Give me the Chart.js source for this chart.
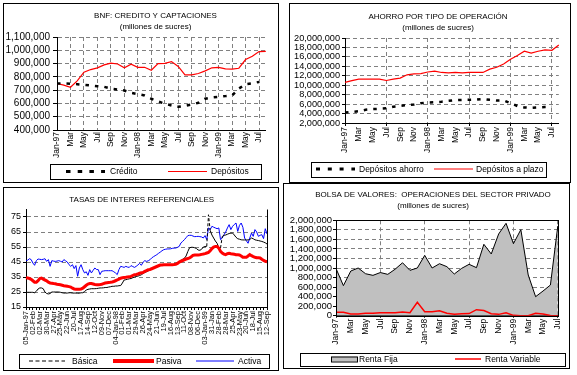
<!DOCTYPE html>
<html><head><meta charset="utf-8">
<script src="https://cdn.jsdelivr.net/npm/chart.js@4.4.1/dist/chart.umd.min.js"></script>
<style>
html,body{margin:0;padding:0;background:#fff;}
body{width:577px;height:375px;position:relative;overflow:hidden;}
.panel{position:absolute;border:1px solid #000;box-sizing:border-box;background:#fff;}
.panel canvas{position:absolute;left:0;top:0;}
</style></head><body>
<div class="panel" style="left:3px;top:3px;width:276px;height:180px"><canvas id="c1" width="274" height="178"></canvas></div>
<div class="panel" style="left:289px;top:3px;width:282px;height:180px"><canvas id="c2" width="280" height="178"></canvas></div>
<div class="panel" style="left:3px;top:187px;width:276px;height:184px"><canvas id="c3" width="274" height="182"></canvas></div>
<div class="panel" style="left:283px;top:183px;width:287px;height:186px"><canvas id="c4" width="285" height="184"></canvas></div>
<script>
// ---------- DATA ----------
const monthCats = ['Jan-97','Feb-97','Mar-97','Apr-97','May-97','Jun-97','Jul-97','Aug-97','Sep-97','Oct-97','Nov-97','Dec-97',
  'Jan-98','Feb-98','Mar-98','Apr-98','May-98','Jun-98','Jul-98','Aug-98','Sep-98','Oct-98','Nov-98','Dec-98',
  'Jan-99','Feb-99','Mar-99','Apr-99','May-99','Jun-99','Jul-99','Aug-99'];
const monthTicks = ['Jan-97','Mar','May','Jul','Sep','Nov','Jan-98','Mar','May','Jul','Sep','Nov','Jan-99','Mar','May','Jul'];

// BNF: Credito y captaciones (millones de sucres)
const creditoBNF = [750000,750000,748000,745000,740000,735000,730000,725000,712000,705000,
  697000,680000,670000,660000,635000,615000,598000,585000,575000,582000,
  592000,605000,635000,645000,650000,655000,660000,712000,745000,752000,762000,null];
const depositosBNF = [750000,738000,722000,770000,835000,855000,868000,890000,903000,897000,
  868000,895000,872000,872000,850000,900000,902000,915000,878000,815000,
  815000,825000,845000,868000,872000,860000,858000,865000,930000,955000,990000,992000];

// Ahorro por tipo de operacion
const depositosAhorro = [4200000,4350000,4500000,4800000,4950000,5000000,5100000,5450000,5600000,5800000,
  5900000,6200000,6350000,6400000,6500000,6700000,6850000,6900000,6900000,6950000,
  7100000,6900000,6750000,6800000,6200000,5600000,5300000,5200000,5300000,5400000,5450000,null];
const depositosPlazo = [10600000,10970000,11300000,11300000,11300000,11300000,11000000,11300000,11500000,12200000,
  12400000,12450000,12800000,13000000,12700000,12600000,12700000,12600000,12700000,12700000,
  12700000,13400000,13800000,14500000,15500000,16300000,17200000,16800000,17200000,17500000,17400000,18500000];

// Tasas de interes referenciales (semanal)
const weekTicks = ['05-Jan-97','02-Feb','02-Mar','30-Mar','27-Apr','25-May','22-Jun','20-Jul','17-Aug','14-Sep','12-Oct','09-Nov','07-Dec',
  '04-Jan-98','01-Feb','01-Mar','29-Mar','26-Apr','24-May','21-Jun','19-Jul','16-Aug','13-Sep','11-Oct','08-Nov','06-Dec',
  '03-Jan-99','31-Jan','28-Feb','28-Mar','25-Apr','23-May','20-Jun','18-Jul','15-Aug','12-Sep'];
const tasaBasica = [24.8,24.8,24.8,24.8, 24.8,24.5,25.5,27, 27.7,27.7,27.2,25, 24,23.7,24,25, 25,25,25,25,
  24.8,24.5,24.3,24.3, 24.3,24.5,24.5,24.3, 24.3,24.3,24.2,24.2, 24.5,24.5,25.3,26.3, 26.8,27,27.2,27.2,
  27.2,27.3,27.5,27.7, 27.7,27.8,28,28, 28.3,28.5,28.8,28.8, 29,29,29.2,29.3, 31,33,33.2,33.5,
  33.8,34,34.5,35, 35.3,35.6,36,36.5, 37.3,38,38.5,39, 40,40.5,41,41.5, 42,42.3,42.6,42.8,
  43,43,43,43, 43,43.2,43.5,44, 44.5,45.2,46,46.8, 47.5,49,52,54.5, 54.8,54.8,54.5,54,
  53,52.8,53.5,55, 55.3,55.5,76.5,66, 63,61,59,57.5, 54.5,54.3,62,62.8, 63,63.5,64,64.2,
  64.3,63,61.5,60.5, 60.2,59.8,59.7,59.7, 59.7,59.7,60,61, 60.5,59.8,59.5,59.3, 59,58.7,58.3,57.8, 57];
const tasaPasiva = [34.5,34.3,34,33.5, 32.5,31.5,31.5,32.5, 34,34.3,33.5,33, 32.5,31.5,31,30.8, 30.6,30.5,30.2,30,
  29.8,29.5,29.2,29, 28.8,28.6,28.3,27.5, 27,26.8,26.8,26.8, 27,27.5,28.5,29.5, 30.3,30.6,30.6,30.3,
  30,29.9,29.9,30, 30.2,30.6,31,31.2, 31.4,31.5,31.7,32, 32.5,33,33.6,34.2, 34.5,34.7,34.8,35,
  35.1,35.4,36,36.6, 36.7,37,37.5,37.8, 38,38.8,39.3,39.8, 40,40.5,41,41.5, 42,42.5,43,43,
  43.2,43.2,43.2,43.2, 43.2,43.2,43.3,43.5, 44,45,45.5,46, 46.5,47,47.3,47.7, 48.5,49.4,49.7,49.7,
  49.7,49.8,50.1,50.3, 50.6,51,51.4,52.5, 54,55,55.4,55.4, 54.3,52.1,51,50.3, 49.9,50.5,50.8,50.5,
  50.3,50.1,49.9,49.8, 49.7,49,48.2,48.1, 48.1,49,49.9,49.2, 48.6,48.2,47.9,47.8, 47.7,46.8,46,45.5, 45.2];
const tasaActiva = [46,46.2,47.2,46.6, 44.3,42.8,45.9,47, 46.8,46.6,46.8,47.2, 45.4,46.6,42.1,45.9, 45.6,45.4,45.6,45.9,
  45.5,45,46.6,45.8, 45,43.2,42.1,43.2, 40.6,42.6,35.5,41, 43.2,39.9,37.7,38.5, 36.1,39.9,37.7,39.5,
  41,40,39.9,36.6, 38.8,39,39.2,39.2, 39.2,39.2,39.2,38.5, 37.7,36.6,40,42.1, 41.8,41.4,42.1,41.6,
  41.4,42.6,42,41.4, 42.1,43,44.1,42.8, 44.8,45.9,45.4,45.8, 46.5,47.7,48.5,49.2, 49.9,50.8,51.6,52.5,
  53.2,53.5,53.7,53.7, 53.8,54.1,54.3,54.3, 54.8,55.4,57.7,58.7, 59.9,61.2,62.6,62.8, 62.8,62.3,61.9,62,
  62.1,61.9,61.7,61, 62.6,59.9,67.7,66.6, 68.8,68.2,67.7,67.2, 67.7,59.9,61,63.2, 65,67.7,69.9,66.6,
  68.8,70,71,65.4, 69.4,71,68.1,61, 59.2,57.5,61,64.3, 62.1,66.6,65,62.1, 62.8,63.2,60.6,67.2, 63.7];
const tasasYTicks = [15,25,35,45,55,65,75];

// Bolsa de valores: operaciones del sector privado
const rentaFija = [990000,630000,937000,1000000,880000,846000,905000,867000,975000,1110000,
  951000,1000000,1265000,1000000,1090000,1028000,874000,993000,1077000,1007000,
  1497000,1294000,1713000,1937000,1510000,1804000,853000,399000,517000,643000,1880000];
const rentaVariable = [70000,70000,35000,35000,50000,50000,63000,63000,63000,77000,
  63000,280000,84000,84000,105000,50000,30000,42000,45000,126000,
  110000,42000,28000,63000,7000,0,0,50000,35000,3000,0];

// ---------- SETUP ----------
const FONT = "'Liberation Sans', Arial, Helvetica, sans-serif";
Chart.defaults.font.family = FONT;
Chart.defaults.color = '#000';
Chart.defaults.animation = false;
Chart.defaults.plugins.legend.display = false;
Chart.defaults.plugins.tooltip.enabled = false;
Chart.defaults.elements.point.radius = 0;
Chart.defaults.elements.line.tension = 0;
const GRID = '#808080';
const DASH = [4,3];
const NONE = 'rgba(0,0,0,0)';
const fmt = v => Math.round(v).toLocaleString('en-US');
const weekCats = weekTicks.flatMap((t, k) => k < weekTicks.length - 1 ? [t, t + ' +1', t + ' +2', t + ' +3'] : [t]);

// legend in a framed box, like the original
const boxLegend = {
  id: 'boxLegend',
  afterDraw(chart, args, opts) {
    if (!opts || !opts.items) return;
    const ctx = chart.ctx;
    ctx.save();
    const b = opts.box;
    ctx.setLineDash([]);
    ctx.strokeStyle = '#000'; ctx.lineWidth = 1;
    ctx.strokeRect(b[0] + 0.5, b[1] + 0.5, b[2], b[3]);
    ctx.font = opts.fontSize + 'px ' + FONT;
    ctx.textBaseline = 'middle';
    for (const it of opts.items) {
      const ds = chart.data.datasets[it.ds];
      if (it.kind === 'rect') {
        ctx.setLineDash([]);
        ctx.fillStyle = ds.backgroundColor;
        ctx.fillRect(it.x0, opts.cy - it.h / 2, it.x1 - it.x0, it.h);
        ctx.strokeStyle = ds.borderColor; ctx.lineWidth = 1;
        ctx.strokeRect(it.x0 + 0.5, opts.cy - it.h / 2 + 0.5, it.x1 - it.x0, it.h);
      } else {
        ctx.strokeStyle = ds.borderColor;
        ctx.lineWidth = it.lw || ds.borderWidth;
        ctx.setLineDash(it.dash ? Array.from(it.dash) : []);
        ctx.beginPath(); ctx.moveTo(it.x0, opts.cy); ctx.lineTo(it.x1, opts.cy); ctx.stroke();
      }
      ctx.setLineDash([]);
      ctx.fillStyle = '#000';
      ctx.fillText(ds.label, it.tx, opts.cy + 0.5);
    }
    ctx.restore();
  }
};
// shift the title block horizontally (the original titles are centred over the plot, not the panel)
const titleShift = {
  id: 'titleShift',
  afterLayout(chart, args, opts) {
    const t = chart.titleBlock;
    if (t && opts && opts.dx) { t.left += opts.dx; t.right += opts.dx; }
  }
};
Chart.register(boxLegend, titleShift);

function titleOpts(lines, top, bottom) {
  return { display: true, text: lines, color: '#000', font: { size: 8, weight: 'normal', lineHeight: 11 / 8 }, padding: { top: top, bottom: bottom } };
}

// ---------- CHART 1 ----------
new Chart(document.getElementById('c1'), {
  type: 'line',
  data: { labels: monthCats, datasets: [
    { label: 'Crédito', data: creditoBNF, borderColor: '#000', borderWidth: 2.5, borderDash: [3.5, 6], fill: false },
    { label: 'Depósitos', data: depositosBNF, borderColor: '#ff0000', borderWidth: 1.2, fill: false }
  ]},
  options: {
    responsive: false,
    layout: { padding: { left: 0, right: 10, top: 0, bottom: 0 } },
    plugins: {
      title: titleOpts(['BNF: CREDITO Y CAPTACIONES', '(millones de sucres)'], 6, 5),
      titleShift: { dx: 19.5 },
      boxLegend: { box: [46, 160, 211, 15], cy: 167.5, fontSize: 8.5,
        items: [ { ds: 0, x0: 62, x1: 101, tx: 106, dash: [4.5, 7.2], lw: 3 }, { ds: 1, x0: 164, x1: 203, tx: 207, lw: 1.2 } ] }
    },
    scales: {
      x: { offset: false,
        grid: { color: c => c.index % 2 === 0 ? GRID : NONE, drawTicks: false },
        border: { color: '#000', dash: DASH },
        ticks: { autoSkip: false, maxRotation: 90, minRotation: 90, padding: 2, font: { size: 8.5 },
          callback: (v, i) => i % 2 === 0 ? monthTicks[i / 2] : '' },
        afterFit: s => { s.height = 52; } },
      y: { min: 400000, max: 1100000,
        grid: { color: GRID, tickColor: '#000', tickLength: 4 },
        border: { color: '#000', dash: DASH },
        ticks: { autoSkip: false, stepSize: 100000, padding: 3, font: { size: 10 }, callback: v => fmt(v) },
        afterFit: s => { s.width = 53; } }
    }
  }
});

// ---------- CHART 2 ----------
new Chart(document.getElementById('c2'), {
  type: 'line',
  data: { labels: monthCats, datasets: [
    { label: 'Depósitos ahorro', data: depositosAhorro, borderColor: '#000', borderWidth: 2.5, borderDash: [3.5, 6], fill: false },
    { label: 'Depósitos a plazo', data: depositosPlazo, borderColor: '#ff0000', borderWidth: 1.2, fill: false }
  ]},
  options: {
    responsive: false,
    layout: { padding: { left: 0, right: 9, top: 0, bottom: 0 } },
    plugins: {
      title: titleOpts(['AHORRO POR TIPO DE OPERACIÓN', '(millones de sucres)'], 6.8, 5.2),
      titleShift: { dx: 12.5 },
      boxLegend: { box: [21, 158, 235, 15], cy: 165, fontSize: 8.5,
        items: [ { ds: 0, x0: 26, x1: 65, tx: 69, dash: [4, 7.8], lw: 3 }, { ds: 1, x0: 144, x1: 183, tx: 186, lw: 1.2 } ] }
    },
    scales: {
      x: { offset: false,
        grid: { color: c => c.index % 6 === 0 ? GRID : NONE, tickColor: c => c.index % 6 === 0 ? '#000' : NONE, tickLength: 3 },
        border: { color: '#000', dash: DASH },
        ticks: { autoSkip: false, maxRotation: 90, minRotation: 90, padding: 1, font: { size: 8.5 },
          callback: (v, i) => i % 2 === 0 ? monthTicks[i / 2] : '' },
        afterFit: s => { s.height = 59; } },
      y: { min: 2000000, max: 20000000,
        grid: { color: GRID, tickColor: '#000', tickLength: 3 },
        border: { color: '#000', dash: DASH },
        ticks: { autoSkip: false, stepSize: 2000000, padding: 2, font: { size: 9.2 }, callback: v => fmt(v) },
        afterFit: s => { s.width = 55; } }
    }
  }
});

// ---------- CHART 3 ----------
const rightLine = { id: 'rightLine', afterDraw(chart) {
  const a = chart.chartArea, ctx = chart.ctx; const x = Math.round(a.right) + 0.5;
  ctx.save(); ctx.strokeStyle = '#000'; ctx.lineWidth = 1; ctx.beginPath(); ctx.moveTo(x, a.top); ctx.lineTo(x, a.bottom); ctx.stroke(); ctx.restore(); } };
new Chart(document.getElementById('c3'), {
  type: 'line',
  data: { labels: weekCats, datasets: [
    { label: 'Básica', data: tasaBasica, borderColor: '#000', borderWidth: 1, fill: false, order: 1,
      segment: { borderDash: c => Math.abs(c.p1.y - c.p0.y) > 6 ? [3, 2] : [] } },
    { label: 'Pasiva', data: tasaPasiva, borderColor: '#ff0000', borderWidth: 3, fill: false, order: 0 },
    { label: 'Activa', data: tasaActiva, borderColor: '#0000ff', borderWidth: 1, fill: false, order: 2 }
  ]},
  options: {
    responsive: false,
    layout: { padding: { left: 0, right: 11, top: 0, bottom: 0 } },
    plugins: {
      title: titleOpts(['TASAS DE INTERES REFERENCIALES'], 6.5, 4),
      titleShift: { dx: 6.2 },
      boxLegend: { box: [15, 166, 250, 14], cy: 173, fontSize: 8.5,
        items: [ { ds: 0, x0: 25, x1: 61, tx: 68, dash: [4, 2.5], lw: 1 }, { ds: 1, x0: 109, x1: 150, tx: 152, lw: 4 }, { ds: 2, x0: 192, x1: 230, tx: 234, lw: 1 } ] }
    },
    scales: {
      x: { offset: false,
        grid: { drawOnChartArea: false, color: '#000', tickColor: c => c.index % 2 === 0 ? '#000' : NONE, tickLength: 3 },
        border: { color: '#000' },
        ticks: { autoSkip: false, maxRotation: 90, minRotation: 90, padding: 1, font: { size: 7.5 },
          callback: (v, i) => i % 4 === 0 ? weekTicks[i / 4] : '' },
        afterFit: s => { s.height = 63; } },
      y: { min: 15, max: 80,
        afterBuildTicks: s => { s.ticks = tasasYTicks.map(v => ({ value: v })); },
        grid: { color: GRID, tickColor: '#000', tickLength: 3 },
        border: { color: '#000', dash: DASH },
        ticks: { autoSkip: false, padding: 2, font: { size: 9 } },
        afterFit: s => { s.width = 22; } }
    }
  },
  plugins: [rightLine]
});

// ---------- CHART 4 ----------
const frame = { id: 'frame', afterDraw(chart) {
  const a = chart.chartArea, ctx = chart.ctx;
  ctx.save(); ctx.strokeStyle = '#000'; ctx.lineWidth = 1; ctx.setLineDash([]);
  ctx.strokeRect(Math.round(a.left) + 0.5, Math.round(a.top) + 0.5, Math.round(a.right) - Math.round(a.left), Math.round(a.bottom) - Math.round(a.top));
  ctx.restore(); } };
new Chart(document.getElementById('c4'), {
  type: 'line',
  data: { labels: monthCats.slice(0, rentaFija.length), datasets: [
    { label: 'Renta Fija', data: rentaFija, borderColor: '#000', backgroundColor: '#c0c0c0', borderWidth: 1, fill: 'origin', order: 1 },
    { label: 'Renta Variable', data: rentaVariable, borderColor: '#ff0000', borderWidth: 1.5, fill: false, order: 0 }
  ]},
  options: {
    responsive: false,
    layout: { padding: { left: 0, right: 8, top: 0, bottom: 0 } },
    plugins: {
      title: titleOpts(['BOLSA DE VALORES:  OPERACIONES DEL SECTOR PRIVADO', '(millones de sucres)'], 5.5, 8.8),
      titleShift: { dx: 10.5 },
      boxLegend: { box: [16, 169, 265, 13], cy: 175, fontSize: 8.5,
        items: [ { ds: 0, kind: 'rect', x0: 47, x1: 73, h: 5, tx: 75 }, { ds: 1, x0: 171, x1: 197, tx: 201, lw: 1.5 } ] }
    },
    scales: {
      x: { offset: false, z: 1,
        grid: { color: c => c.index % 6 === 0 ? GRID : NONE, tickColor: c => c.index % 6 === 0 ? '#000' : NONE, tickLength: 2 },
        border: { color: '#000', dash: DASH },
        ticks: { autoSkip: false, maxRotation: 90, minRotation: 90, padding: 1, font: { size: 8.5 },
          callback: (v, i) => i % 2 === 0 ? monthTicks[i / 2] : '' },
        afterFit: s => { s.height = 52.3; } },
      y: { min: 0, max: 2000000, z: 1,
        grid: { color: GRID, tickColor: '#000', tickLength: 3 },
        border: { color: '#000', dash: DASH },
        ticks: { autoSkip: false, stepSize: 200000, padding: 1, font: { size: 9.5 }, callback: v => fmt(v) },
        afterFit: s => { s.width = 52; } }
    }
  },
  plugins: [frame]
});
</script>
</body></html>
